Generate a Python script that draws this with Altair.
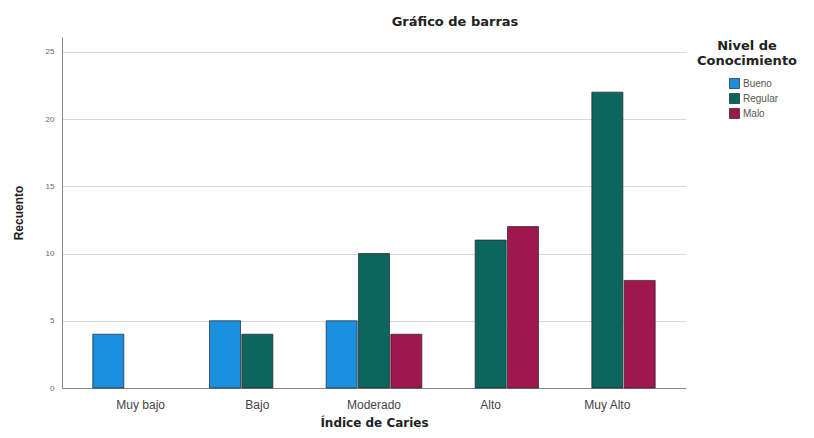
import altair as alt
import pandas as pd

categorias = ["Muy bajo", "Bajo", "Moderado", "Alto", "Muy Alto"]
niveles = ["Bueno", "Regular", "Malo"]
bueno = [4, 5, 5, None, None]
regular = [None, 4, 10, 11, 22]
malo = [None, None, 4, 12, 8]
colores = ["#1a8fe0", "#0d6560", "#a0174f"]
y_ticks = [0, 5, 10, 15, 20, 25]

rows = []
for nivel, serie in zip(niveles, [bueno, regular, malo]):
    for cat, v in zip(categorias, serie):
        if v is not None:
            rows.append({"Indice": cat, "Nivel": nivel, "Recuento": v})
df = pd.DataFrame(rows)

FONT = "Liberation Sans"
WIDE = "DejaVu Sans"

chart = alt.Chart(df).mark_bar(stroke="#222222", strokeWidth=0.7).encode(
    x=alt.X("Indice:N", sort=categorias,
            scale=alt.Scale(domain=categorias, paddingInner=0.18, paddingOuter=0.264),
            axis=alt.Axis(title="Índice de Caries", labelAngle=0, ticks=False,
                          labelFontSize=12, labelColor="#444444", labelPadding=11,
                          titleFont=WIDE, titleFontSize=12, titleFontWeight="bold",
                          titleColor="#222222",
                          titlePadding=7, domainColor="#888888", grid=False)),
    xOffset=alt.XOffset("Nivel:N", sort=niveles,
                        scale=alt.Scale(domain=niveles, paddingInner=0.04)),
    y=alt.Y("Recuento:Q", scale=alt.Scale(domain=[0, 26.1], nice=False),
            axis=alt.Axis(title="Recuento", values=y_ticks, format="d",
                          labelFontSize=8, labelColor="#666666", ticks=False,
                          labelPadding=8, titleFontSize=12, titleFontWeight="bold",
                          titleColor="#222222", titlePadding=20,
                          domainColor="#888888", gridColor="#d9d9d9")),
    color=alt.Color("Nivel:N", sort=niveles,
                    scale=alt.Scale(domain=niveles, range=colores),
                    legend=alt.Legend(title=["Nivel de", "Conocimiento"], orient="none",
                                      legendX=635, legendY=3, symbolType="square",
                                      symbolSize=100, symbolStrokeColor="#222222",
                                      symbolStrokeWidth=0.7, labelFontSize=10,
                                      labelColor="#555555", titleFont=WIDE,
                                      titleFontSize=13,
                                      titleFontWeight="bold", titleColor="#222222",
                                      titleAlign="center", titleAnchor="middle",
                                      titlePadding=10, symbolOffset=14,
                                      rowPadding=2, labelOffset=3)),
).properties(
    width=624, height=351,
    title=alt.TitleParams("Gráfico de barras", anchor="middle", dx=81, offset=8,
                          font=WIDE, fontSize=13, fontWeight="bold", color="#222222"),
    autosize=alt.AutoSizeParams(type="none"),
    padding={"left": 54, "top": 29, "right": 118, "bottom": 42},
).configure(font=FONT).configure_view(stroke=None)

chart.save("out.html", embed_options={"renderer": "svg", "actions": False})
